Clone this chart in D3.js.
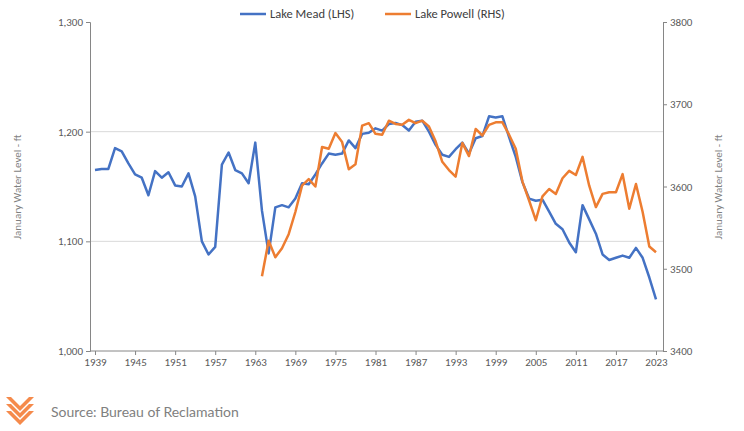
<!DOCTYPE html>
<html><head><meta charset="utf-8">
<script src="https://cdn.jsdelivr.net/npm/d3@7"></script>
<style>body{margin:0;background:#fff}</style>
</head><body><svg id="c" width="744" height="431"></svg>
<script>
const meadYears = d3.range(1939, 2024);
const meadValues = [1165,1166,1166,1185,1182,1171,1161,1158,1142,1164,1158,1163,1151,1150,1162,1141,1100,1088,1095,1170,
  1181,1165,1162,1153,1190,1128,1089,1131,1133,1131,1139,1153,1152,1161,1171,1180,1179,1180,1192,1185,
  1198,1199,1203,1201,1207,1208,1206,1201,1209,1210,1200,1188,1179,1177,1184,1190,1180,1194,1196,1214,
  1213,1214,1195,1177,1154,1139,1137,1138,1127,1116,1111,1099,1090,1133,1120,1107,1088,1083,1085,1087,
  1085,1094,1085,1067,1047];
const powellYears = d3.range(1964, 2024);
const powellValues = [3491,3534,3514,3525,3542,3569,3601,3609,3600,3648,3646,3665,3654,3621,3627,3674,3677,3664,3663,3680,
  3676,3675,3681,3677,3680,3673,3655,3630,3620,3612,3653,3637,3670,3662,3675,3678,3678,3663,3646,3606,
  3583,3559,3588,3597,3591,3610,3619,3614,3636,3601,3575,3591,3593,3593,3615,3573,3603,3569,3527,3520];
const xTicks = d3.range(1939, 2024, 6);
const leftTicks = [1000, 1100, 1200, 1300];
const rightTicks = [3400, 3500, 3600, 3700, 3800];

const svg = d3.select("#c");
const x = d3.scaleLinear().domain([1939, 2023]).range([95, 656]);
const yL = d3.scaleLinear().domain([1000, 1300]).range([351, 22]);
const yR = d3.scaleLinear().domain([3400, 3800]).range([351, 22]);
const font = "Calibri, Carlito, 'Liberation Sans', sans-serif";

// grid
svg.append("g").selectAll("line").data([1100, 1200]).join("line")
  .attr("x1", 90).attr("x2", 663).attr("y1", d => yL(d)).attr("y2", d => yL(d))
  .attr("stroke", "#d9d9d9");

const gx = svg.append("g").attr("transform", "translate(0,351)")
  .call(d3.axisBottom(x).tickValues(xTicks).tickFormat(d3.format("d")).tickSize(4));
gx.select(".domain").attr("d", "M90,0H663");
const gl = svg.append("g").attr("transform", "translate(90,0)")
  .call(d3.axisLeft(yL).tickValues(leftTicks).tickFormat(d3.format(",")).tickSize(4));
const gr = svg.append("g").attr("transform", "translate(663,0)")
  .call(d3.axisRight(yR).tickValues(rightTicks).tickFormat(d3.format("d")).tickSize(4));
[gx, gl, gr].forEach(g => {
  g.selectAll(".domain,line").attr("stroke", "#868686");
  g.selectAll("text").attr("fill", "#595959").attr("font-family", font).attr("font-size", 11);
});

svg.append("text").attr("transform", "translate(21,187) rotate(-90)").attr("text-anchor", "middle")
  .attr("font-family", font).attr("font-size", 11).attr("fill", "#7f7f7f").text("January Water Level - ft");
svg.append("text").attr("transform", "translate(722,187) rotate(-90)").attr("text-anchor", "middle")
  .attr("font-family", font).attr("font-size", 11).attr("fill", "#7f7f7f").text("January Water Level - ft");

const lineL = d3.line().x((d, i) => x(meadYears[i])).y(d => yL(d));
const lineR = d3.line().x((d, i) => x(powellYears[i])).y(d => yR(d));
svg.append("path").attr("d", lineL(meadValues)).attr("fill", "none").attr("stroke", "#4472c4").attr("stroke-width", 2.5).attr("stroke-linejoin", "round");
svg.append("path").attr("d", lineR(powellValues)).attr("fill", "none").attr("stroke", "#ed7d31").attr("stroke-width", 2.5).attr("stroke-linejoin", "round");

// legend
const leg = [["Lake Mead (LHS)", "#4472c4", 240], ["Lake Powell (RHS)", "#ed7d31", 385]];
leg.forEach(([t, c, lx]) => {
  svg.append("line").attr("x1", lx).attr("x2", lx + 26).attr("y1", 14).attr("y2", 14).attr("stroke", c).attr("stroke-width", 2.5);
  svg.append("text").attr("x", lx + 30).attr("y", 18).attr("font-family", font).attr("font-size", 12.5).attr("fill", "#404040").text(t);
});

// logo
const logo = svg.append("g").attr("fill", "#f58a4b");
[0, 7, 14].forEach(o => {
  logo.append("path").attr("d", `M6,${397 + o}L11,${397 + o}L20,${406 + o}L29,${397 + o}L34,${397 + o}L20,${411 + o}Z`);
});
svg.append("text").attr("x", 51).attr("y", 417).attr("font-family", "Lato, sans-serif").attr("font-size", 14)
  .attr("fill", "#808080").text("Source: Bureau of Reclamation");
</script></body></html>
